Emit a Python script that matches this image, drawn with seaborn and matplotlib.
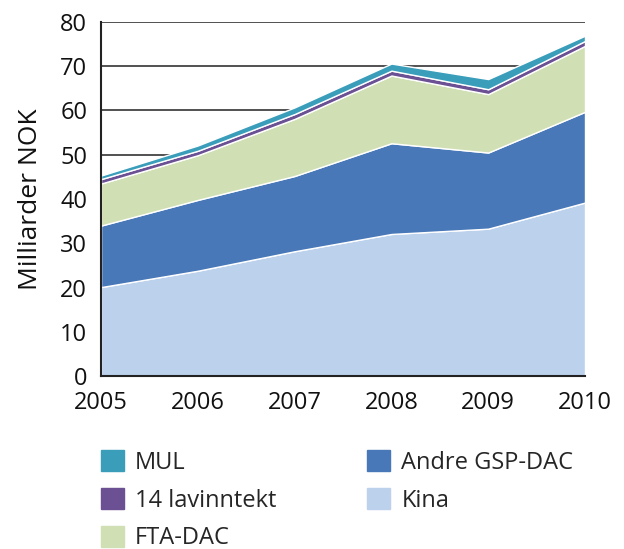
import matplotlib
matplotlib.use("Agg")
import matplotlib.pyplot as plt
import seaborn as sns
from matplotlib.patches import Patch

years = [2005, 2006, 2007, 2008, 2009, 2010]
kina = [20.1, 23.8, 28.2, 32.1, 33.3, 39.2]
andre = [13.9, 16.0, 17.0, 20.5, 17.2, 20.5]
fta = [9.5, 10.1, 12.9, 15.3, 13.2, 14.9]
lav14 = [1.0, 1.0, 1.1, 1.1, 1.1, 1.1]
mul = [0.8, 1.2, 1.5, 1.6, 2.3, 1.2]
labels = ["Kina", "Andre GSP-DAC", "FTA-DAC", "14 lavinntekt", "MUL"]
colors = ["#BBD1EC", "#4878B8", "#D1E0B4", "#6B5193", "#3A9EBB"]

sns.set_style("white")
plt.rcParams['font.family'] = ['Open Sans', 'DejaVu Sans']

fig = plt.figure(figsize=(6.24, 5.49), dpi=100)
ax = fig.add_axes([0.162, 0.315, 0.7755, 0.645])
ax.stackplot(years, kina, andre, fta, lav14, mul, colors=colors, labels=labels, zorder=2)
ax.set_xlim(2005, 2010)
ax.set_ylim(0, 80)
ax.set_yticks(range(0, 81, 10))
ax.set_xticks(years)
ax.yaxis.grid(True, color="#222222", linewidth=1.1, zorder=0)
ax.set_axisbelow(True)
for s in ["top", "right"]:
    ax.spines[s].set_visible(False)
for s in ["left", "bottom"]:
    ax.spines[s].set_color("#222222")
    ax.spines[s].set_linewidth(1.5)
    ax.spines[s].set_zorder(5)
ax.tick_params(axis="y", labelsize=17, length=0, pad=10, colors="#111111")
ax.tick_params(axis="x", labelsize=17, length=0, pad=11, colors="#111111")
ax.set_ylabel("Milliarder NOK", fontsize=19, labelpad=12, color="#111111")

handles = [Patch(color=colors[4]), Patch(color=colors[3]), Patch(color=colors[2]),
           Patch(color=colors[1]), Patch(color=colors[0])]
names = [labels[4], labels[3], labels[2], labels[1], labels[0]]
fig.legend(handles, names, ncol=2, loc="upper left", bbox_to_anchor=(0.162, 0.180),
           frameon=False, fontsize=17, handlelength=0.97, handleheight=0.97,
           columnspacing=3.85, labelspacing=0.57, handletextpad=0.47, borderpad=0,
           borderaxespad=0, bbox_transform=fig.transFigure)
fig.savefig("out.png", dpi=100)
